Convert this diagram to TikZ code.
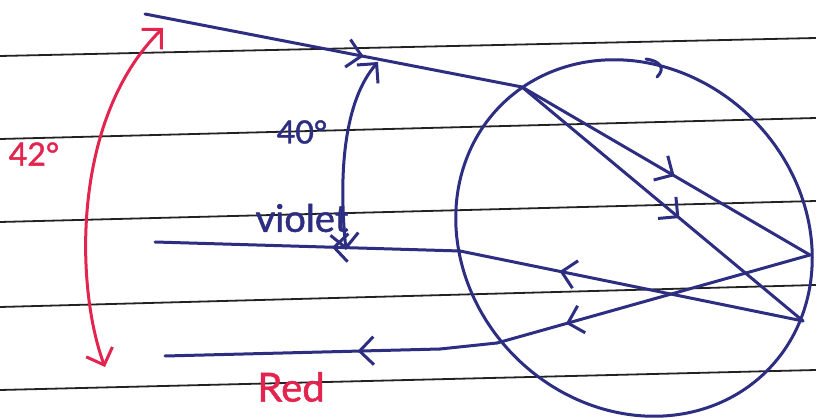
\documentclass[tikz,border=0pt]{standalone}
\usepackage{fontspec}
\newfontfamily\handfont{Lato}[FakeBold=1.3]
\usetikzlibrary{arrows.meta,decorations.markings}
\definecolor{inkblue}{HTML}{2D2E82}
\definecolor{inkred}{HTML}{E2244E}
\definecolor{rulegray}{HTML}{222222}
\tikzset{
  ink/.style={draw=inkblue, line width=3pt, line cap=round, line join=round},
  redink/.style={draw=inkred, line width=3pt, line cap=round, line join=round},
  ruled/.style={draw=rulegray, line width=1.8pt},
  barb/.tip={Straight Barb[length=14pt, width=28pt]},
  midarrow/.style={postaction={decorate, decoration={markings,
      mark=at position #1 with {\arrow{barb}}}}},
  handlabel/.style={inner sep=0pt, font=\handfont\fontsize{#1}{#1}\selectfont},
}
\begin{document}
\begin{tikzpicture}[x=1pt, y=-1pt]
\fill[white] (0,0) rectangle (816,419);
\useasboundingbox (0,0) rectangle (816,419);

% ruled notebook lines
\foreach \a/\b in {56/38, 139/118, 222/201, 307/285, 390/370}
  \draw[ruled] (0,\a) -- (816,\b);

% key points of the ray path
\coordinate (src)   at (145,14);
\coordinate (entry) at (522,87);
\coordinate (r1)    at (803,321);
\coordinate (r2)    at (810,255);
\coordinate (exit1) at (460,251);
\coordinate (exit2) at (497,343);
\coordinate (vend)  at (155,242);
\coordinate (rbend) at (440,349);
\coordinate (rend)  at (165,356);

% the raindrop: a slightly tilted oval
\draw[ink] plot[domain=0:356, samples=90, smooth cycle, variable=\t]
  ({634-132.9*cos(\t)+118.8*sin(\t)}, {238-132.9*cos(\t)-118.8*sin(\t)});
% small hook hanging from the top of the drop
\draw[ink] (646,59) .. controls (660,61) and (666,68) .. (657,77);

% incoming ray and paths inside the drop
\draw[ink, midarrow=0.58] (src) -- (entry);
\draw[ink, midarrow=0.56] (entry) -- (r1);
\draw[ink, midarrow=0.53] (entry) -- (r2);
\draw[ink, midarrow=0.71] (r1) -- (exit1);
\draw[ink, midarrow=0.78] (r2) -- (exit2);

% emerging rays
\draw[ink, midarrow=0.42] (exit1) -- (vend);
\draw[ink] (exit2) -- (rbend);
\draw[ink, midarrow=0.30] (rbend) -- (rend);

% angle arcs
\coordinate (a42top) at (163,28);
\coordinate (a42bot) at (105,367);
\draw[redink, barb-barb] (a42bot) .. controls (76,290) and (70,120) .. (a42top);
\coordinate (a40top) at (378,62);
\coordinate (a40bot) at (346,250);
\draw[ink, barb-barb] (a40bot) .. controls (338,170) and (345,100) .. (a40top);

% labels
\node[handlabel=32, text=inkred]  (l42)     at (34,154)  {42°};
\node[handlabel=32, text=inkblue] (l40)     at (302,132) {40°};
\node[handlabel=38, text=inkblue] (lviolet) at (302,218) {violet};
\node[handlabel=40, text=inkred]  (lred)    at (291,387) {Red};
\end{tikzpicture}
\end{document}
